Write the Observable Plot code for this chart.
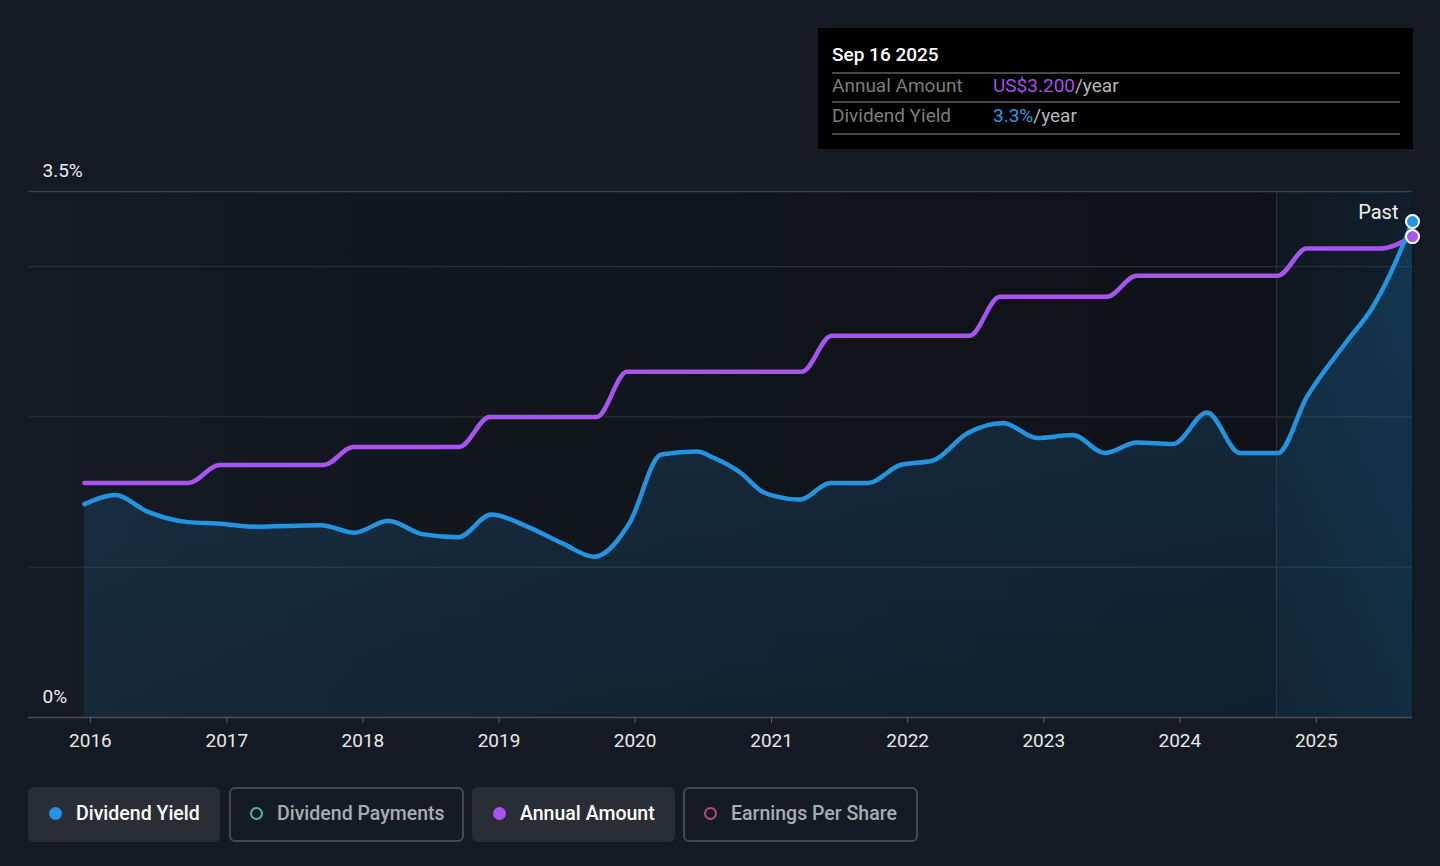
<!DOCTYPE html>
<html><head><meta charset="utf-8">
<script src="https://cdn.jsdelivr.net/npm/d3@7"></script>
<script src="https://cdn.jsdelivr.net/npm/@observablehq/plot@0.6"></script>
<style>
html,body{margin:0;padding:0;background:#151b24;}
body{font-family:Roboto,"Noto Sans",sans-serif;width:1440px;height:866px;overflow:hidden;position:relative;}
#chart{position:absolute;left:0;top:0;}
.tip{position:absolute;left:818px;top:28px;width:595px;height:121px;background:#000;}
.tip div{position:absolute;white-space:nowrap;font-size:19px;line-height:24px;}
.tip .sep{height:1.5px;background:#474747;left:14px;width:568px;}
.legend{position:absolute;top:787px;height:55px;box-sizing:border-box;border-radius:6px;font-size:19.5px;font-weight:500;display:flex;align-items:center;white-space:nowrap;padding-bottom:3px;}
.legend.on{background:#282d36;color:#fff;}
.legend.off{border:2px solid #44494f;color:#a9adb3;}
.legend .dot{width:13px;height:13px;border-radius:50%;box-sizing:border-box;margin-left:21px;margin-right:14px;}
</style></head>
<body>
<div id="chart"></div>
<div class="tip">
  <div style="left:14px;top:15px;color:#fff;font-weight:500;">Sep 16 2025</div>
  <div class="sep" style="top:44px;"></div>
  <div style="left:14px;top:46px;color:#7d7d7d;">Annual Amount</div>
  <div style="left:175px;top:46px;color:#b7b7b7;"><span style="color:#a650e6">US$3.200</span>/year</div>
  <div class="sep" style="top:73px;"></div>
  <div style="left:14px;top:76px;color:#7d7d7d;">Dividend Yield</div>
  <div style="left:175px;top:76px;color:#b7b7b7;"><span style="color:#2d9be3">3.3%</span>/year</div>
  <div class="sep" style="top:105px;"></div>
</div>
<div class="legend on" style="left:28px;width:192px;"><span class="dot" style="background:#2394df"></span>Dividend Yield</div>
<div class="legend off" style="left:229px;width:235px;"><span class="dot" style="border:2px solid #4fb8a8;margin-left:19px"></span>Dividend Payments</div>
<div class="legend on" style="left:472px;width:203px;"><span class="dot" style="background:#a855f0"></span>Annual Amount</div>
<div class="legend off" style="left:683px;width:235px;"><span class="dot" style="border:2px solid #b84a82;margin-left:19px"></span>Earnings Per Share</div>
<script>
// Dividend yield (%)
const yieldDates = ["2015-12-16","2016-03-08","2016-06-02","2016-09-20","2016-12-17","2017-03-10","2017-09-11","2017-12-09","2018-03-10","2018-06-09","2018-09-14","2018-12-11","2019-03-18","2019-06-19","2019-09-13","2019-12-16","2020-03-11","2020-06-15","2020-07-28","2020-10-09","2020-12-09","2021-01-15","2021-03-19","2021-06-07","2021-09-17","2021-12-12","2022-03-10","2022-06-09","2022-09-14","2022-12-14","2023-03-20","2023-06-14","2023-09-08","2023-12-14","2024-03-14","2024-06-10","2024-09-20","2024-12-06","2025-03-23","2025-06-01","2025-07-16","2025-09-16"];
const yieldValues = [1.42,1.48,1.37,1.30,1.29,1.27,1.28,1.23,1.31,1.22,1.20,1.35,1.27,1.16,1.07,1.29,1.75,1.77,1.73,1.63,1.50,1.47,1.45,1.56,1.56,1.68,1.71,1.89,1.96,1.86,1.88,1.76,1.83,1.82,2.03,1.76,1.76,2.13,2.50,2.73,2.94,3.30];
// Annual amount (US$)
const amountDates = ["2015-12-16","2016-09-20","2016-12-12","2017-09-18","2017-12-06","2018-09-16","2018-12-07","2019-09-20","2019-12-10","2021-03-23","2021-06-11","2022-06-16","2022-09-05","2023-06-19","2023-09-07","2024-09-20","2024-12-06","2025-06-19","2025-09-16"];
const amountValues = [1.56,1.56,1.68,1.68,1.80,1.80,2.00,2.00,2.30,2.30,2.54,2.54,2.80,2.80,2.94,2.94,3.12,3.12,3.20];
const yTickValues = [0, 3.5];
const yTickLabels = ["0%", "3.5%"];
const gridValues = [1, 2, 3];
const domainStart = "2015-07-19", domainEnd = "2025-09-16", pastStart = "2024-09-16";

const parse = d3.utcParse("%Y-%m-%d");
const yieldData = yieldDates.map((d, i) => ({date: parse(d), value: yieldValues[i]}));
const amountData = amountDates.map((d, i) => ({date: parse(d), value: amountValues[i]}));
const last = (a) => a[a.length - 1];

const chart = Plot.plot({
  width: 1440, height: 770,
  marginLeft: 28, marginRight: 28, marginTop: 191, marginBottom: 53,
  style: {background: "transparent", fontFamily: "Roboto, 'Noto Sans', sans-serif"},
  x: {type: "utc", domain: [parse(domainStart), parse(domainEnd)]},
  y: {domain: [0, 3.5], axis: null},
  marks: [
    Plot.frame({fill: "url(#bgGrad)", stroke: "none"}),
    Plot.rect([{a: parse(pastStart), b: parse(domainEnd)}], {x1: "a", x2: "b", y1: 0, y2: 3.5, fill: "url(#pastGrad)"}),
    Plot.ruleX([parse(pastStart)], {y1: 0, y2: 3.5, stroke: "#243141", strokeWidth: 1}),
    Plot.ruleY(gridValues, {stroke: "#2a3039", strokeWidth: 1.2}),
    Plot.ruleY([3.5], {stroke: "#3a4049", strokeWidth: 1.5}),
    Plot.areaY(yieldData, {x: "date", y: "value", curve: "monotone-x", fill: "url(#areaGrad)"}),
    Plot.ruleY([0], {stroke: "#4a4f57", strokeWidth: 1.5}),
    Plot.axisX({ticks: d3.utcYear.every(1), tickFormat: "%Y", tickSize: 6, tickPadding: 10, fontSize: 19, color: "#e8e8e8", stroke: "#5a5f66", label: null}),
    Plot.lineY(amountData, {x: "date", y: "value", curve: "monotone-x", stroke: "#a855f0", strokeWidth: 4.5}),
    Plot.lineY(yieldData, {x: "date", y: "value", curve: "monotone-x", stroke: "#2394df", strokeWidth: 4.5}),
    Plot.text(yTickValues, {x: parse(domainStart), y: d => d, text: (d, i) => yTickLabels[i], textAnchor: "start", dx: 14, dy: -21, fontSize: 19, fill: "#ececec"}),
    Plot.text(["Past"], {x: parse(domainEnd), y: 3.5, text: d => d, textAnchor: "end", dx: -14, dy: 21, fontSize: 20, fill: "#f0f0f0"}),
    Plot.dot([last(amountData)], {x: "date", y: "value", r: 6.5, fill: "#a855f0", stroke: "#fff", strokeWidth: 2}),
    Plot.dot([last(yieldData)], {x: "date", y: "value", r: 6.5, fill: "#2394df", stroke: "#fff", strokeWidth: 2})
  ]
});

const svg = d3.select(chart);
const defs = svg.insert("defs", ":first-child");
const g1 = defs.append("linearGradient").attr("id", "bgGrad").attr("x1", 0).attr("x2", 1).attr("y1", 0).attr("y2", 0);
g1.append("stop").attr("offset", "0%").attr("stop-color", "#151b24");
g1.append("stop").attr("offset", "40%").attr("stop-color", "#11151c");
g1.append("stop").attr("offset", "100%").attr("stop-color", "#0e1116");
const g2 = defs.append("linearGradient").attr("id", "pastGrad").attr("x1", 0).attr("x2", 1).attr("y1", 0).attr("y2", 0);
g2.append("stop").attr("offset", "0%").attr("stop-color", "#2394df").attr("stop-opacity", 0.05);
g2.append("stop").attr("offset", "100%").attr("stop-color", "#2394df").attr("stop-opacity", 0.11);
const g3 = defs.append("linearGradient").attr("id", "areaGrad").attr("x1", 0).attr("x2", 0).attr("y1", 0).attr("y2", 1);
g3.append("stop").attr("offset", "0%").attr("stop-color", "#2394df").attr("stop-opacity", 0.2);
g3.append("stop").attr("offset", "100%").attr("stop-color", "#2394df").attr("stop-opacity", 0.11);

document.getElementById("chart").appendChild(chart);
</script>
</body></html>
